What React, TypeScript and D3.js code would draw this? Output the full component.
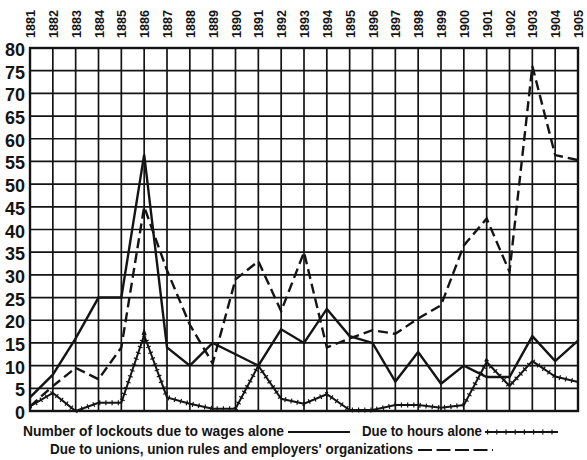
import React from "react";
import * as d3 from "d3";

const years = ["1881","1882","1883","1884","1885","1886","1887","1888","1889","1890","1891","1892","1893","1894","1895","1896","1897","1898","1899","1900","1901","1902","1903","1904","1905"];
const yTicks = [0,5,10,15,20,25,30,35,40,45,50,55,60,65,70,75,80];
const wages = [3,8,16,25,25,56.5,14,10,15,12.5,10,18,15,22.5,16.5,15,6.5,13,6,10,7.5,7.5,16.5,11,15.5];
const hours = [1,4,0,1.8,1.8,16.7,3,1.6,0.5,0.5,10,2.7,1.6,3.7,0.2,0.2,1.3,1.3,0.7,1.3,10.8,5.5,11,7.6,6.4];
const unions = [1,5.5,9.5,7,14,45,31,19,10.5,29,33,22,35,14,16,17.8,17,20.4,23.3,36.5,42.4,30.7,76,56.4,55.3];

const legend1 = "Number of lockouts due to wages alone";
const legend2 = "Due to hours alone";
const legend3 = "Due to unions, union rules and employers' organizations";

const FONT = "'Liberation Sans Narrow', 'Liberation Sans', Arial, sans-serif";
const INK = "#141414";

export default function App() {
  const x = d3.scaleLinear().domain([0, years.length - 1]).range([30, 578]);
  const y = d3.scaleLinear().domain([0, 80]).range([411, 48]);
  const line = d3.line<number>().x((_, i) => x(i)).y((d) => y(d));

  return (
    <svg width={587} height={460} style={{ position: "absolute", left: 0, top: 0, background: "#fff" }}>
      <rect x={0} y={0} width={587} height={460} fill="#fff" />
      {/* grid */}
      {yTicks.map((t) => (
        <line key={"h" + t} x1={x(0)} x2={x(24)} y1={y(t)} y2={y(t)} stroke={INK} strokeWidth={1.7} />
      ))}
      {years.map((yr, i) => (
        <line key={"v" + yr} x1={x(i)} x2={x(i)} y1={y(0)} y2={y(80)} stroke={INK} strokeWidth={1.7} />
      ))}
      <rect x={x(0)} y={y(80)} width={x(24) - x(0)} height={y(0) - y(80)} fill="none" stroke={INK} strokeWidth={2.4} />

      {/* y labels */}
      {yTicks.map((t) => (
        <text key={"yl" + t} x={25} y={y(t) + 8} textAnchor="end" fontFamily={FONT} fontWeight="bold" fontSize={18} fill={INK}>
          {t}
        </text>
      ))}
      {/* year labels */}
      {years.map((yr, i) => (
        <text key={"xl" + yr} transform={`translate(${x(i) + 5},38) rotate(-90)`} fontFamily={FONT} fontWeight="bold" fontSize={13.5} fill={INK} textLength={28} lengthAdjust="spacingAndGlyphs">
          {yr}
        </text>
      ))}

      {/* series */}
      <path d={line(unions) || ""} fill="none" stroke={INK} strokeWidth={2.4} strokeDasharray="10 5" />
      <path d={line(wages) || ""} fill="none" stroke={INK} strokeWidth={2.4} strokeLinejoin="miter" />
      <path d={line(hours) || ""} fill="none" stroke={INK} strokeWidth={2} />
      <path d={line(hours) || ""} fill="none" stroke={INK} strokeWidth={5} strokeDasharray="1.2 5" />

      {/* legend */}
      <text x={23} y={436} fontFamily={FONT} fontWeight="bold" fontSize={14} fill={INK} textLength={261} lengthAdjust="spacingAndGlyphs">{legend1}</text>
      <line x1={288} x2={350} y1={432} y2={432} stroke={INK} strokeWidth={2} />
      <text x={362} y={436} fontFamily={FONT} fontWeight="bold" fontSize={14} fill={INK} textLength={120} lengthAdjust="spacingAndGlyphs">{legend2}</text>
      <line x1={485} x2={558} y1={432} y2={432} stroke={INK} strokeWidth={1.8} />
      <line x1={487} x2={558} y1={432} y2={432} stroke={INK} strokeWidth={5} strokeDasharray="1.2 8" />
      <text x={50} y={454} fontFamily={FONT} fontWeight="bold" fontSize={14} fill={INK} textLength={363} lengthAdjust="spacingAndGlyphs">{legend3}</text>
      <line x1={418} x2={493} y1={450} y2={450} stroke={INK} strokeWidth={2} strokeDasharray="14 4.5" />
    </svg>
  );
}
